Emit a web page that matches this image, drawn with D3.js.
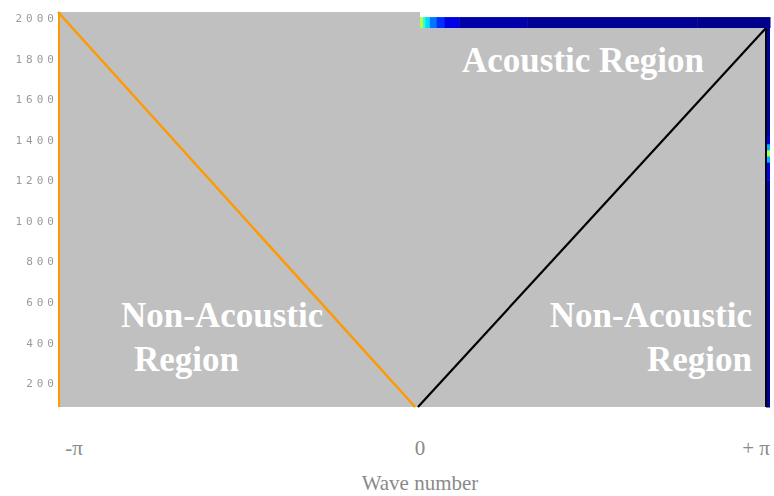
<!DOCTYPE html>
<html>
<head>
<meta charset="utf-8">
<script src="https://cdn.jsdelivr.net/npm/d3@7"></script>
<style>
  html, body { margin: 0; padding: 0; background: #fff; }
  svg { display: block; }
</style>
</head>
<body>
<svg id="chart" width="774" height="496"></svg>
<script>
// Frequency ticks on the vertical axis
const freqTicks = [200, 400, 600, 800, 1000, 1200, 1400, 1600, 1800, 2000];

// Wave-number labels along the bottom
const kTicks = [-Math.PI, 0, Math.PI];
const kTickLabels = ["-\u03c0", "0", "+ \u03c0"];

// Dispersion lines (wave number, frequency)
const leftLineK = [-Math.PI, 0.01];
const leftLineF = [2030, 82];
const rightLineK = [0.035, Math.PI - 0.035];
const rightLineF = [82, 1951];

// Spectral strip along the top edge (k boundaries, intensity per cell)
const topStripEdges = [0.053, 0.08, 0.1, 0.14, 0.2, 0.27, 0.4, 1.0, 2.5, Math.PI];
const topStripLevels = [0.55, 0.42, 0.34, 0.24, 0.17, 0.1, 0.04, 0.02, 0.01];

// Spectral column along the right edge (frequency boundaries, intensity per cell)
const sideEdges = [82, 600, 1200, 1290, 1320, 1350, 1380, 1420, 1500, 1951];
const sideLevels = [0.02, 0.03, 0.1, 0.3, 0.55, 0.3, 0.1, 0.04, 0.03];

// Region annotations
const regionLabels = [
  { lines: ["Non-Acoustic", "Region"], anchor: "start" },
  { lines: ["Non-Acoustic", "Region"], anchor: "end" },
  { lines: ["Acoustic Region"], anchor: "start" }
];

const svg = d3.select("#chart");
const x = d3.scaleLinear().domain([-Math.PI, Math.PI]).range([58, 770]);
const y = d3.scaleLinear().domain([82, 2030]).range([407, 12]);

// jet colormap
function jet(v) {
  const c = t => Math.max(0, Math.min(1, t));
  const r = c(1.5 - Math.abs(4 * v - 3));
  const g = c(1.5 - Math.abs(4 * v - 2));
  const b = c(1.5 - Math.abs(4 * v - 1));
  return d3.rgb(r * 255, g * 255, b * 255);
}

// grey background of the spectrum
svg.append("rect")
  .attr("x", x(-Math.PI)).attr("y", y(2030))
  .attr("width", x(topStripEdges[0]) - x(-Math.PI))
  .attr("height", y(82) - y(2030))
  .attr("fill", "#c0c0c0");
svg.append("rect")
  .attr("x", x(topStripEdges[0])).attr("y", y(1951))
  .attr("width", x(Math.PI) - x(topStripEdges[0]) - 4)
  .attr("height", y(82) - y(1951))
  .attr("fill", "#c0c0c0");

// top strip
svg.append("g").selectAll("rect")
  .data(topStripLevels)
  .join("rect")
  .attr("x", (d, i) => x(topStripEdges[i]))
  .attr("width", (d, i) => x(topStripEdges[i + 1]) - x(topStripEdges[i]) + 0.5)
  .attr("y", y(2005))
  .attr("height", y(1951) - y(2005))
  .attr("fill", d => jet(d))
  .style("filter", "blur(0.6px)");

// right column
svg.append("g").selectAll("rect")
  .data(sideLevels)
  .join("rect")
  .attr("x", x(Math.PI) - 4)
  .attr("width", 4)
  .attr("y", (d, i) => y(sideEdges[i + 1]))
  .attr("height", (d, i) => y(sideEdges[i]) - y(sideEdges[i + 1]) + 0.5)
  .attr("fill", d => jet(d))
  .style("filter", "blur(0.4px)");
svg.append("line")
  .attr("x1", x(Math.PI) - 4).attr("x2", x(Math.PI) - 4)
  .attr("y1", y(1951)).attr("y2", y(82))
  .attr("stroke", "#000010").attr("stroke-width", 2);

// left edge
svg.append("line")
  .attr("x1", x(-Math.PI) + 1).attr("x2", x(-Math.PI) + 1)
  .attr("y1", y(2030)).attr("y2", y(82))
  .attr("stroke", "#ff9900").attr("stroke-width", 2);

const line = d3.line().x(d => x(d[0])).y(d => y(d[1]));
svg.append("path")
  .attr("d", line(d3.zip(leftLineK, leftLineF)))
  .attr("fill", "none").attr("stroke", "#ff9900").attr("stroke-width", 2.5);
svg.append("path")
  .attr("d", line(d3.zip(rightLineK, rightLineF)))
  .attr("fill", "none").attr("stroke", "#000").attr("stroke-width", 2.2);

// frequency axis labels
svg.append("g").selectAll("text")
  .data(freqTicks)
  .join("text")
  .attr("x", 58)
  .attr("y", d => y(d) + 4)
  .attr("text-anchor", "end")
  .attr("font-family", "DejaVu Sans Mono, monospace")
  .attr("font-size", 11)
  .attr("letter-spacing", 4)
  .attr("fill", "#9a9a9a")
  .style("filter", "blur(0.4px)")
  .text(d => d);

// wave-number labels
const kLabelX = [74, 420, 756];
svg.append("g").selectAll("text")
  .data(kTickLabels)
  .join("text")
  .attr("x", (d, i) => kLabelX[i])
  .attr("y", 455)
  .attr("text-anchor", "middle")
  .attr("font-family", "Liberation Serif, serif")
  .attr("font-size", 21)
  .attr("fill", "#8a8a8a")
  .text(d => d);

svg.append("text")
  .attr("x", 420).attr("y", 490)
  .attr("text-anchor", "middle")
  .attr("font-family", "Liberation Serif, serif")
  .attr("font-size", 21)
  .attr("fill", "#8a8a8a")
  .text("Wave number");

// region annotations
const labelPos = [
  { x: 121, y: 327 },
  { x: 752, y: 327 },
  { x: 462, y: 72 }
];
const labelG = svg.append("g")
  .attr("font-family", "Liberation Serif, serif")
  .attr("font-weight", "bold")
  .attr("font-size", 35)
  .attr("fill", "#ffffff");
regionLabels.forEach((lab, i) => {
  const t = labelG.append("text")
    .attr("text-anchor", lab.anchor);
  lab.lines.forEach((s, j) => {
    t.append("tspan")
      .attr("x", labelPos[i].x + (i === 0 && j === 1 ? 13 : 0))
      .attr("y", labelPos[i].y + j * 44)
      .text(s);
  });
});
</script>
</body>
</html>
